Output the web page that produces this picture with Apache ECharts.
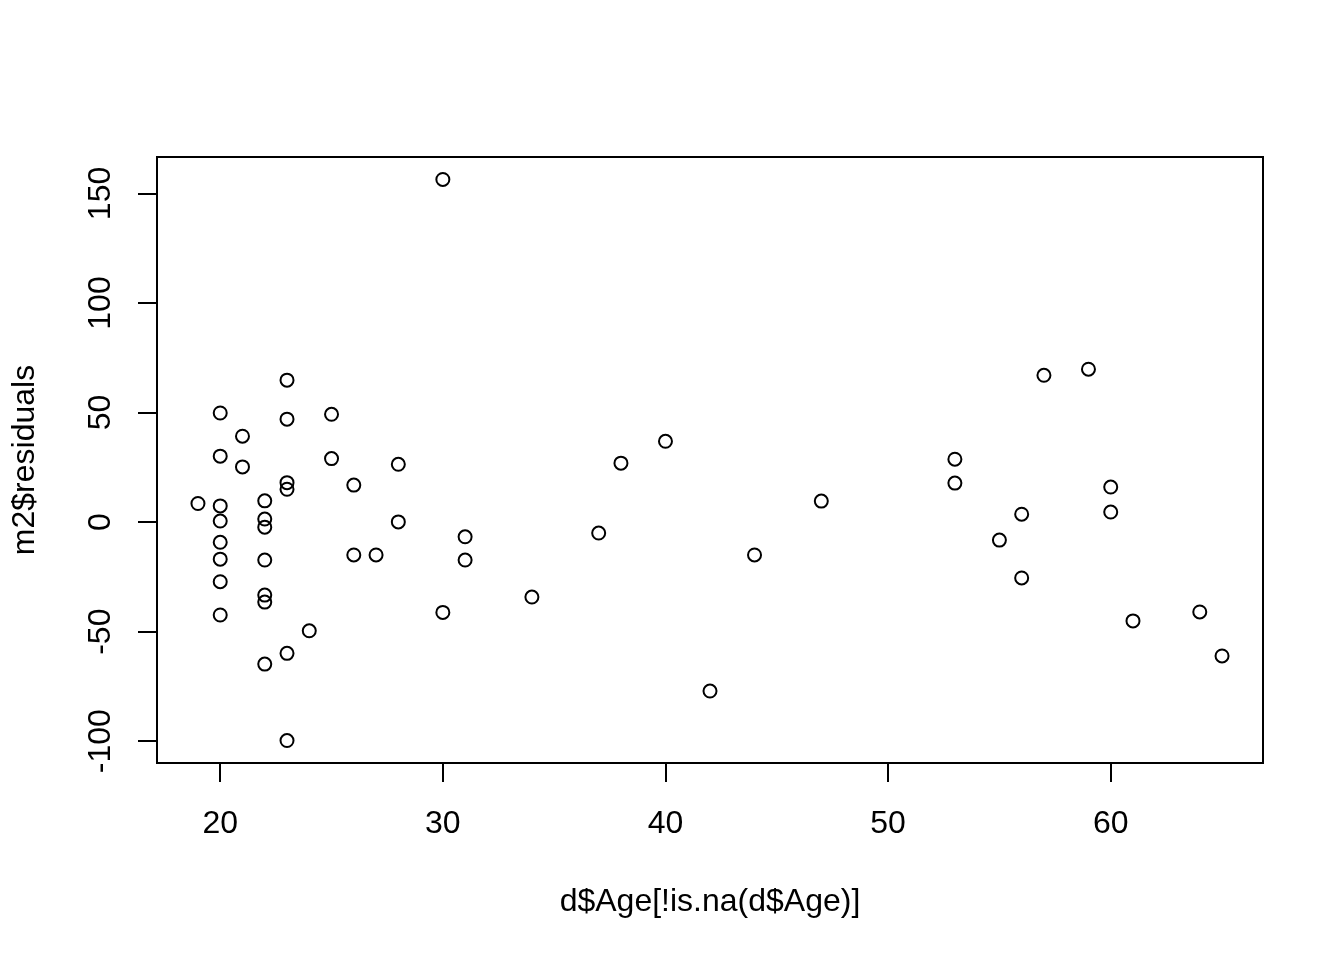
<!DOCTYPE html>
<html>
<head>
<meta charset="utf-8">
<script src="https://cdn.jsdelivr.net/npm/echarts@6/dist/echarts.min.js"></script>
<style>
html,body{margin:0;padding:0;background:#fff;}
#chart{width:1344px;height:960px;}
</style>
</head>
<body>
<div id="chart"></div>
<script>
// Data
const ages = [
  19,
  20, 20, 20, 20, 20, 20, 20, 20,
  21, 21,
  22, 22, 22, 22, 22, 22, 22,
  23, 23, 23, 23, 23, 23,
  24,
  25, 25,
  26, 26,
  27,
  28, 28,
  30, 30,
  31, 31,
  34, 37, 38, 40, 42, 44, 47,
  53, 53, 55, 56, 56, 57, 59, 60, 60, 61, 64, 65
];
const residuals = [
  8.5,
  49.8, 30.1, 7.4, 0.5, -9.2, -16.9, -27.2, -42.4,
  39.2, 25.2,
  9.7, 1.4, -2.3, -17.3, -33.3, -36.5, -64.8,
  64.8, 47.0, 18.0, 15.0, -59.9, -99.7,
  -49.6,
  49.2, 29.0,
  16.9, -15.0,
  -15.0,
  26.4, 0.1,
  156.4, -41.2,
  -6.7, -17.3,
  -34.2, -5.0, 26.9, 36.9, -77.1, -15.0, 9.6,
  28.7, 17.8, -8.2, 3.6, -25.5, 67.0, 69.8, 16.0, 4.6, -45.1, -41.0, -61.1
];
const xTicks = [20, 30, 40, 50, 60];
const yTicks = [-100, -50, 0, 50, 100, 150];
const xTitle = 'd$Age[!is.na(d$Age)]';
const yTitle = 'm2$residuals';

// R-style 4% range expansion
function rRange(arr) {
  const mn = Math.min.apply(null, arr), mx = Math.max.apply(null, arr);
  const pad = (mx - mn) * 0.04;
  return [mn - pad, mx + pad];
}
const xr = rRange(ages), yr = rRange(residuals);
const points = ages.map((a, i) => [a, residuals[i]]);

const FONT = '"Liberation Sans", Arial, sans-serif';
const chart = echarts.init(document.getElementById('chart'), null, {renderer: 'canvas'});
chart.setOption({
  animation: false,
  backgroundColor: '#ffffff',
  grid: {
    left: 157, top: 157, right: 81, bottom: 197,
    show: true, borderColor: '#000', borderWidth: 2, backgroundColor: 'transparent'
  },
  xAxis: {
    type: 'value', min: xr[0], max: xr[1],
    axisLine: {show: false, onZero: false},
    splitLine: {show: false},
    axisTick: {show: true, length: 19, inside: false, customValues: xTicks,
      lineStyle: {color: '#000', width: 2}},
    axisLabel: {show: true, customValues: xTicks, margin: 45,
      color: '#000', fontSize: 32, fontFamily: FONT},
    name: xTitle, nameLocation: 'middle', nameGap: 123,
    nameTextStyle: {color: '#000', fontSize: 32, fontFamily: FONT}
  },
  yAxis: {
    type: 'value', min: yr[0], max: yr[1],
    axisLine: {show: false, onZero: false},
    splitLine: {show: false},
    axisTick: {show: true, length: 19, inside: false, customValues: yTicks,
      lineStyle: {color: '#000', width: 2}},
    axisLabel: {show: true, customValues: yTicks, margin: 40, rotate: 90,
      color: '#000', fontSize: 32, fontFamily: FONT},
    name: yTitle, nameLocation: 'middle', nameGap: 116,
    nameTextStyle: {color: '#000', fontSize: 32, fontFamily: FONT}
  },
  series: [{
    type: 'scatter',
    data: points,
    symbol: 'circle',
    symbolSize: 13,
    itemStyle: {color: 'rgba(0,0,0,0)', borderColor: '#000', borderWidth: 2, opacity: 1},
    emphasis: {disabled: true},
    silent: true
  }]
});
</script>
</body>
</html>
